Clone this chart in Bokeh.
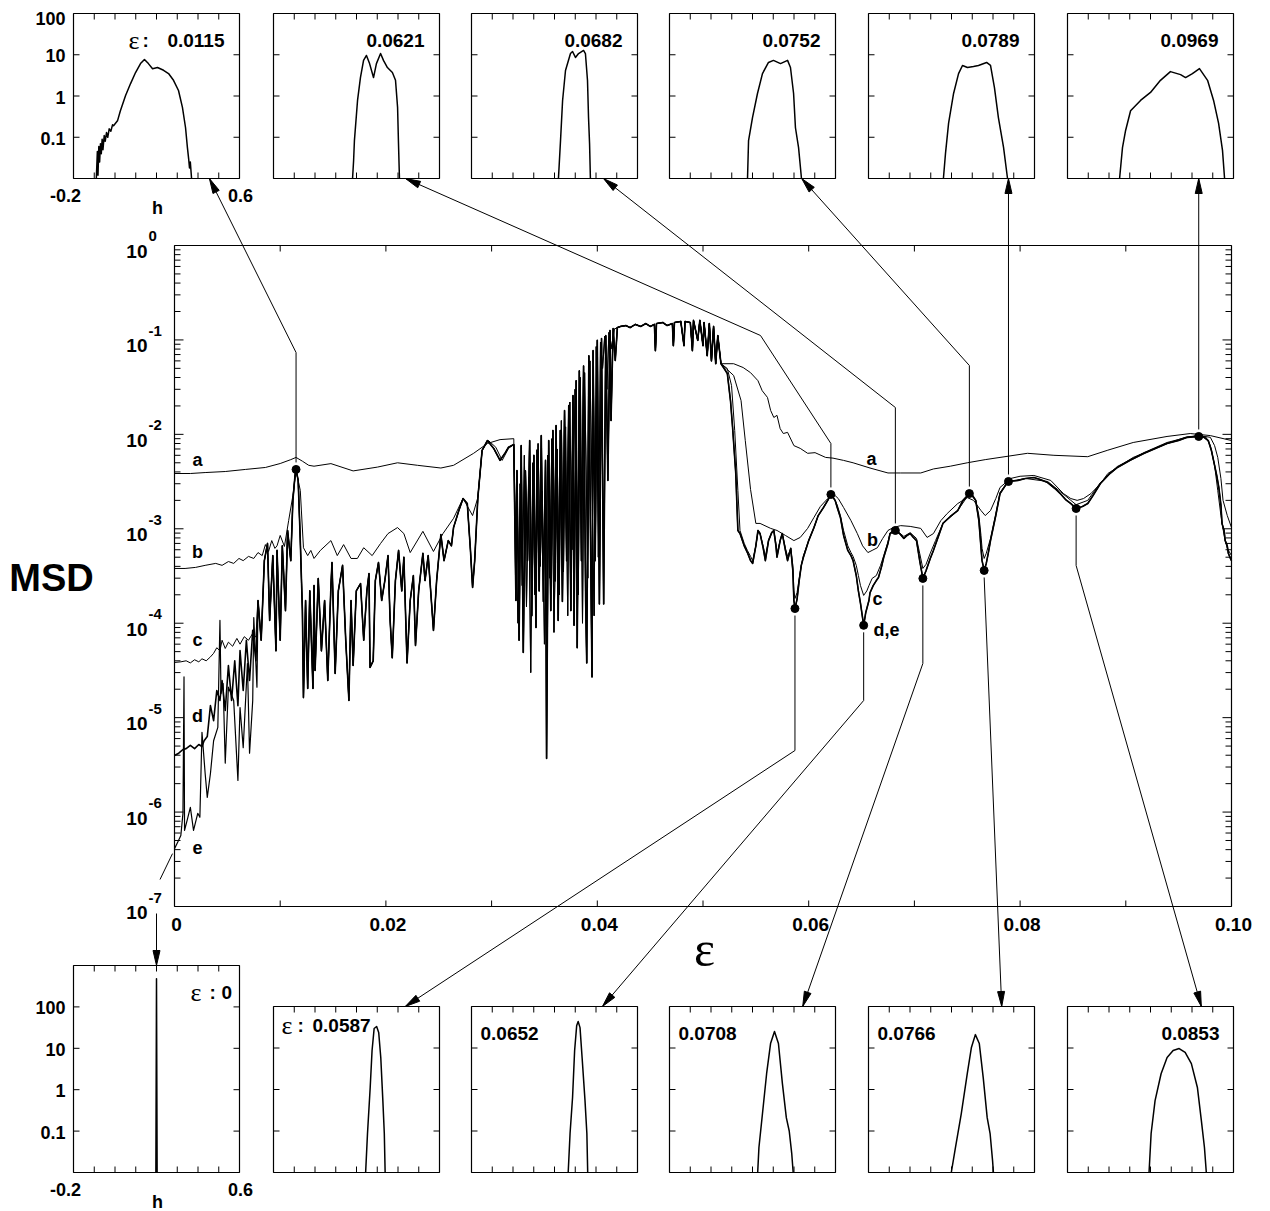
import math
from bokeh.plotting import figure
from bokeh.models import Range1d, LinearScale, LogScale, CoordinateMapping
from bokeh.embed import file_html
from bokeh.resources import INLINE
from bokeh.core.properties import value

# ------------------------------------------------------------------ data
# curve a
a_left_eps = [0.0000, 0.0015, 0.0029, 0.0048, 0.0067, 0.0086, 0.0100, 0.0110, 0.0115, 0.0121,
              0.0127, 0.0132, 0.0148, 0.0169, 0.0192, 0.0211, 0.0230, 0.0252, 0.0264, 0.0283,
              0.0296, 0.0308, 0.0321]
a_left_msd = [3.85e-3, 3.85e-3, 3.94e-3, 4.04e-3, 4.25e-3, 4.46e-3, 4.91e-3, 5.4e-3, 5.7e-3, 5.2e-3,
              4.7e-3, 4.6e-3, 4.9e-3, 4.1e-3, 4.5e-3, 5.0e-3, 4.7e-3, 4.4e-3, 4.7e-3, 6.3e-3,
              8.0e-3, 8.8e-3, 9.0e-3]
a_right_eps = [0.0529, 0.0538, 0.0545, 0.0552, 0.0556, 0.0561, 0.0564, 0.0567, 0.0570, 0.0573,
               0.0576, 0.0580, 0.0586, 0.0592, 0.0599, 0.0606, 0.0616, 0.0623, 0.0633, 0.0642,
               0.0658, 0.0675, 0.0687, 0.0706, 0.0718, 0.0734, 0.0750, 0.0767, 0.0781, 0.0807,
               0.0832, 0.0864, 0.0883, 0.0907, 0.0939, 0.0961, 0.0980, 0.1000]
a_right_msd = [0.056, 0.051, 0.045, 0.037, 0.029, 0.0246, 0.0179, 0.0151, 0.0159, 0.0115,
               0.0102, 0.0105, 0.0076, 0.0071, 0.0063, 0.0064, 0.0057, 0.0056, 0.0053, 0.0050,
               0.0044, 0.0039, 0.0039, 0.0039, 0.0043, 0.0046, 0.0050, 0.0054, 0.0057, 0.0063,
               0.0060, 0.0058, 0.0068, 0.0082, 0.0095, 0.0102, 0.0097, 0.0086]

# chaotic band (two overlapping realisations) and the plateau shared by all curves
chaos_eps = [0.0323, 0.0324, 0.0326, 0.0328, 0.0330, 0.0332, 0.0334, 0.0336, 0.0338, 0.0340,
             0.0342, 0.0343, 0.0345, 0.0347, 0.0349, 0.0351, 0.0352, 0.0354, 0.0356, 0.0358,
             0.0360, 0.0361, 0.0363, 0.0365, 0.0367, 0.0369, 0.0371, 0.0373, 0.0375, 0.0377,
             0.0378, 0.0380, 0.0381, 0.0383, 0.0385, 0.0387, 0.0389, 0.0390, 0.0392, 0.0394,
             0.0395, 0.0396, 0.0398, 0.0400, 0.0402, 0.0404, 0.0406, 0.0408, 0.0410, 0.0412,
             0.0413, 0.0415, 0.0417, 0.0419]
chaos_msd = [1.74e-4, 4.14e-3, 6.6e-5, 7.6e-3, 4.9e-5, 4.1e-3, 4.6e-4, 8.6e-3, 1.2e-4, 6.0e-3,
             9.0e-5, 6.8e-3, 2.2e-4, 9.7e-3, 1.7e-4, 5.3e-3, 3.7e-6, 8.6e-3, 1.36e-4, 0.011,
             2.8e-4, 0.0124, 1.07e-4, 0.011, 1.7e-4, 0.0179, 4.6e-4, 0.0202, 1.36e-4, 0.0258,
             9.5e-5, 0.037, 5.5e-5, 0.047, 4.6e-4, 0.053, 1.7e-4, 3.8e-5, 0.068, 2.8e-4,
             2.7e-5, 0.077, 4.6e-4, 0.099, 1.6e-4, 0.1035, 1.6e-4, 0.111, 3.25e-3, 0.126,
             0.014, 0.132, 0.0605, 0.135]
chaos2_eps = [0.0322, 0.0325, 0.0327, 0.0329, 0.0331, 0.0333, 0.0335, 0.0337, 0.0339, 0.0341,
              0.0344, 0.0346, 0.0348, 0.0350, 0.0353, 0.0355, 0.0357, 0.0359, 0.0362, 0.0364,
              0.0366, 0.0368, 0.0370, 0.0372, 0.0374, 0.0376, 0.0379, 0.0382, 0.0384, 0.0386,
              0.0388, 0.0391, 0.0393, 0.0397, 0.0399, 0.0401, 0.0403, 0.0405, 0.0407, 0.0409,
              0.0411, 0.0414, 0.0416, 0.0419]
chaos2_msd = [2.0e-3, 1.0e-4, 3.0e-3, 2.5e-4, 6.0e-3, 1.5e-4, 3.5e-3, 3.0e-5, 5.0e-3, 2.0e-4,
              8.0e-3, 4.0e-4, 2.5e-3, 6.0e-5, 6.0e-3, 3.0e-4, 9.0e-3, 8.0e-5, 7.0e-3, 2.0e-4,
              0.014, 3.5e-4, 0.012, 1.2e-4, 0.022, 6.0e-4, 0.030, 2.0e-4, 0.040, 1.0e-4,
              0.045, 3.0e-4, 0.060, 1.2e-4, 0.085, 5.0e-4, 0.095, 0.05, 0.110, 0.03,
              0.120, 0.08, 0.130, 0.135]
plateau_eps = [0.0422, 0.0427, 0.0431, 0.0436, 0.0441, 0.0446, 0.0450, 0.0454, 0.0455, 0.0456,
               0.0462, 0.0466, 0.0471, 0.0472, 0.0473, 0.0479, 0.0482, 0.0483, 0.0488, 0.0490,
               0.0491, 0.0495, 0.0497, 0.0500, 0.0501, 0.0504, 0.0506, 0.0508, 0.0510, 0.0512,
               0.0514, 0.0517]
plateau_msd = [0.139, 0.142, 0.135, 0.146, 0.139, 0.149, 0.139, 0.146, 0.077, 0.149,
               0.153, 0.142, 0.149, 0.087, 0.153, 0.157, 0.087, 0.157, 0.153, 0.077,
               0.161, 0.099, 0.161, 0.087, 0.153, 0.068, 0.149, 0.060, 0.139, 0.056,
               0.111, 0.056]

# curve b
b_left_eps = [0.0000, 0.0010, 0.0020, 0.0029, 0.0039, 0.0045, 0.0051, 0.0056, 0.0061, 0.0065,
              0.0070, 0.0075, 0.0079, 0.0083, 0.0086, 0.0089, 0.0092, 0.0095, 0.0097, 0.0100,
              0.0104, 0.0108, 0.0112, 0.0115, 0.0119, 0.0122, 0.0126, 0.0129, 0.0132, 0.0138,
              0.0148, 0.0154, 0.0160, 0.0167, 0.0173, 0.0179, 0.0187, 0.0195, 0.0202, 0.0211,
              0.0217, 0.0223, 0.0235, 0.0245, 0.0254, 0.0264, 0.0273, 0.0282, 0.0287, 0.0291,
              0.0297, 0.0304, 0.0310, 0.0316, 0.0321]
b_left_msd = [3.8e-4, 3.8e-4, 3.9e-4, 4.1e-4, 4.3e-4, 4.1e-4, 4.5e-4, 4.3e-4, 4.85e-4, 4.6e-4,
              5.1e-4, 4.85e-4, 5.6e-4, 5.2e-4, 6.8e-4, 5.75e-4, 7.5e-4, 6.2e-4, 6.6e-4, 8.5e-4,
              6.5e-4, 1.22e-3, 2.25e-3, 4.1e-3, 2.55e-3, 6.3e-4, 5.2e-4, 5.9e-4, 4.85e-4, 5.9e-4,
              7.5e-4, 5.2e-4, 6.8e-4, 4.85e-4, 4.85e-4, 6.3e-4, 5.2e-4, 7.0e-4, 8.9e-4, 1.03e-3,
              8.9e-4, 5.6e-4, 9.4e-4, 5.75e-4, 8.9e-4, 1.29e-3, 2.1e-3, 1.38e-3, 2.14e-3, 6.75e-3,
              8.6e-3, 7.3e-3, 5.3e-3, 7.1e-3, 7.8e-3]
b_right_eps = [0.0529, 0.0536, 0.0540, 0.0545, 0.0550, 0.0554, 0.0564, 0.0570, 0.0578, 0.0586,
               0.0592, 0.0599, 0.0605, 0.0611, 0.0618, 0.0623, 0.0628, 0.0633, 0.0640, 0.0646,
               0.0651, 0.0656, 0.0660, 0.0665, 0.0670, 0.0675, 0.0680, 0.0687, 0.0696, 0.0706,
               0.0712, 0.0718, 0.0725, 0.0731, 0.0741, 0.0750, 0.0756, 0.0763, 0.0767, 0.0772,
               0.0777, 0.0781, 0.0791, 0.0800, 0.0813, 0.0829, 0.0841, 0.0848, 0.0854, 0.0860,
               0.0867, 0.0876, 0.0883, 0.0895, 0.0907, 0.0923, 0.0939, 0.0956, 0.0968, 0.0975,
               0.0980, 0.0984, 0.0987, 0.0990, 0.0992, 0.0996, 0.1000]
b_right_msd = [0.042, 0.0228, 0.0086, 0.0026, 1.14e-3, 1.14e-3, 1.01e-3, 9.6e-4, 8.5e-4, 7.5e-4,
               8.1e-4, 1.01e-3, 1.32e-3, 1.72e-3, 2.09e-3, 2.36e-3, 2.09e-3, 1.68e-3, 1.22e-3, 8.9e-4,
               6.6e-4, 5.6e-4, 5.9e-4, 6.3e-4, 7.9e-4, 9.6e-4, 1.03e-3, 1.08e-3, 1.06e-3, 1.01e-3,
               8.1e-4, 8.9e-4, 1.22e-3, 1.45e-3, 1.85e-3, 2.14e-3, 2.0e-3, 1.56e-3, 1.38e-3, 1.56e-3,
               2.09e-3, 2.74e-3, 3.41e-3, 3.6e-3, 3.67e-3, 3.25e-3, 2.36e-3, 2.09e-3, 2.0e-3, 2.09e-3,
               2.36e-3, 3.0e-3, 3.85e-3, 4.7e-3, 5.7e-3, 6.75e-3, 8.0e-3, 9.3e-3, 9.7e-3, 9.5e-3,
               9.3e-3, 7.6e-3, 5.7e-3, 3.4e-3, 2.0e-3, 1.38e-3, 1.03e-3]

# curves c, d, e (left starts differ, then share the oscillating band)
c_left_eps = [0.0000, 0.0006, 0.0011, 0.0015, 0.0019, 0.0023, 0.0026, 0.0030, 0.0034, 0.0037,
              0.0040, 0.0043, 0.0045, 0.0048, 0.0051, 0.0055, 0.0059, 0.0062, 0.0066, 0.0070,
              0.0074, 0.0077]
c_left_msd = [3.84e-5, 3.9e-5, 4.0e-5, 3.8e-5, 4.1e-5, 3.9e-5, 4.2e-5, 4.0e-5, 4.4e-5, 4.8e-5,
              5.5e-5, 5.1e-5, 6.6e-5, 5.4e-5, 6.3e-5, 5.7e-5, 6.9e-5, 6.0e-5, 7.2e-5, 6.6e-5,
              7.8e-5, 7.1e-5]
d_left_eps = [0.0000, 0.0004, 0.0008, 0.0011, 0.0015, 0.0019, 0.0023, 0.0026, 0.0028, 0.0031,
              0.0034, 0.0037, 0.0040, 0.0043, 0.0045, 0.0048, 0.0051, 0.0054, 0.0057, 0.0060,
              0.0062, 0.0065, 0.0068, 0.0071, 0.0074, 0.0077]
d_left_msd = [3.97e-6, 4.2e-6, 4.6e-6, 4.7e-6, 5.1e-6, 4.7e-6, 5.2e-6, 4.95e-6, 5.7e-6, 6.3e-6,
              1.34e-5, 9.3e-6, 1.94e-5, 1.52e-5, 2.47e-5, 1.19e-5, 3.57e-5, 1.52e-5, 4.0e-5, 1.34e-5,
              5.14e-5, 1.94e-5, 6.6e-5, 2.47e-5, 8.4e-5, 4.0e-5]
e_left_eps = [0.0000, 0.0003, 0.0006, 0.0008, 0.0009, 0.00095, 0.0012, 0.0015, 0.0018, 0.0022,
              0.0024, 0.0026, 0.0029, 0.0031, 0.0034, 0.0037, 0.0041, 0.0043, 0.0044, 0.0046,
              0.0048, 0.0051, 0.0056, 0.0060, 0.0062, 0.0065, 0.0069, 0.0071, 0.0074, 0.0075,
              0.0078]
e_left_msd = [4.1e-7, 4.8e-7, 5.65e-7, 9.7e-7, 2.7e-5, 6.4e-7, 8.2e-7, 1.12e-6, 6.4e-7, 9.7e-7,
              8.8e-7, 7.0e-6, 2.56e-6, 1.43e-6, 2.56e-6, 5.7e-6, 7.9e-6, 1.07e-4, 1.8e-5, 2.3e-5,
              3.3e-6, 2.1e-5, 1.52e-5, 2.16e-6, 1.28e-5, 4.8e-6, 3.74e-5, 4.2e-6, 1.52e-5, 1.15e-4,
              2.1e-5]
cde_mid_eps = [0.0079, 0.0082, 0.0085, 0.0088, 0.0090, 0.0093, 0.0096, 0.0097, 0.0100, 0.0102,
               0.0105, 0.0107, 0.0110, 0.0112, 0.0114, 0.0115, 0.0117, 0.0119, 0.0121, 0.0122,
               0.0124, 0.0126, 0.0128, 0.0131, 0.0132, 0.0133, 0.0136, 0.0139, 0.0142, 0.0145,
               0.0148, 0.0149, 0.0152, 0.0155, 0.0159, 0.0162, 0.0165, 0.0167, 0.0169, 0.0172,
               0.0176, 0.0179, 0.0182, 0.0184, 0.0185, 0.0188, 0.0190, 0.0193, 0.0196, 0.0199,
               0.0202, 0.0204, 0.0206, 0.0209, 0.0212, 0.0215, 0.0217, 0.0220, 0.0223, 0.0226,
               0.0228, 0.0231, 0.0235, 0.0237, 0.0240, 0.0243, 0.0245, 0.0248, 0.0252, 0.0255,
               0.0259, 0.0262, 0.0264, 0.0269, 0.0273, 0.0277, 0.0280, 0.0282, 0.0284, 0.0287,
               0.0291, 0.0296, 0.0302, 0.0308, 0.0313, 0.0316, 0.0321]
cde_mid_msd = [1.74e-4, 6.6e-5, 4.6e-4, 7.0e-4, 1.07e-4, 5.2e-4, 5.1e-5, 5.9e-4, 6.6e-5, 6.6e-4,
               1.36e-4, 9.6e-4, 4.6e-4, 2.0e-3, 3.67e-3, 4.25e-3, 3.25e-3, 7.5e-4, 1.36e-4, 1.63e-5,
               1.74e-4, 2.04e-5, 2.2e-4, 2.04e-5, 2.51e-4, 3.16e-5, 2.98e-4, 5.1e-5, 1.74e-4, 2.47e-5,
               2.5e-4, 4.4e-4, 2.94e-5, 2.2e-4, 4.1e-4, 6.6e-5, 1.52e-5, 1.74e-4, 3.57e-5, 2.2e-4,
               2.63e-4, 6.6e-5, 2.2e-4, 3.36e-4, 3.4e-5, 4.0e-5, 2.83e-4, 4.4e-4, 1.74e-4, 2.83e-4,
               5.2e-4, 1.07e-4, 4.3e-5, 2.83e-4, 5.9e-4, 2.2e-4, 5.0e-4, 3.8e-5, 1.74e-4, 3.2e-4,
               5.8e-5, 2.2e-4, 5.5e-4, 2.83e-4, 5.2e-4, 1.74e-4, 8.4e-5, 2.83e-4, 8.7e-4, 4.6e-4,
               7.5e-4, 6.6e-4, 1.03e-3, 1.56e-3, 2.09e-3, 1.85e-3, 5.9e-4, 2.39e-4, 4.6e-4, 2.14e-3,
               6.75e-3, 8.6e-3, 7.1e-3, 5.3e-3, 6.4e-3, 7.3e-3, 7.8e-3]
c_right_eps = [0.0523, 0.0527, 0.0530, 0.0533, 0.0535, 0.0539, 0.0542, 0.0545, 0.0547, 0.0550,
               0.0552, 0.0554, 0.0557, 0.0559, 0.0562, 0.0565, 0.0567, 0.0569, 0.0570, 0.0573,
               0.0575, 0.0578, 0.0580, 0.0583, 0.0585, 0.0586, 0.0587, 0.0589, 0.0591, 0.0593,
               0.0595, 0.0600, 0.0605, 0.0609, 0.0614, 0.0618, 0.0621, 0.0625, 0.0627, 0.0630,
               0.0633, 0.0637, 0.0640, 0.0642, 0.0645, 0.0647, 0.0649, 0.0652, 0.0655, 0.0657,
               0.0660, 0.0664, 0.0668, 0.0671, 0.0675, 0.0677, 0.0682, 0.0690, 0.0696, 0.0702,
               0.0705, 0.0708, 0.0711, 0.0715, 0.0720, 0.0727, 0.0741, 0.0752, 0.0758, 0.0761,
               0.0763, 0.0764, 0.0766, 0.0768, 0.0772, 0.0777, 0.0781, 0.0789, 0.0805, 0.0826,
               0.0838, 0.0848, 0.0853, 0.0864, 0.0876, 0.0892, 0.0917, 0.0939, 0.0958, 0.0969,
               0.0976, 0.0980, 0.0984, 0.0987, 0.0990, 0.0993, 0.0996, 0.1000]
c_right_msd = [0.0498, 0.0329, 0.0110, 2.55e-3, 9.6e-4, 7.0e-4, 5.9e-4, 5.1e-4, 4.6e-4, 6.6e-4,
               9.1e-4, 8.9e-4, 6.5e-4, 5.1e-4, 7.5e-4, 9.1e-4, 9.6e-4, 7.0e-4, 5.5e-4, 7.5e-4,
               8.9e-4, 6.2e-4, 5.1e-4, 6.2e-4, 4.1e-4, 2.2e-4, 1.83e-4, 2.11e-4, 2.98e-4, 4.1e-4,
               5.2e-4, 7.5e-4, 1.03e-3, 1.38e-3, 1.68e-3, 2.0e-3, 2.31e-3, 2.0e-3, 1.78e-3, 1.38e-3,
               9.6e-4, 6.6e-4, 5.6e-4, 5.1e-4, 4.1e-4, 3.2e-4, 2.5e-4, 1.97e-4, 2.2e-4, 2.5e-4,
               2.98e-4, 3.2e-4, 4.1e-4, 5.2e-4, 7.3e-4, 9.1e-4, 9.8e-4, 8.3e-4, 9.1e-4, 7.9e-4,
               5.5e-4, 3.8e-4, 4.2e-4, 5.5e-4, 7.5e-4, 1.14e-3, 1.56e-3, 2.36e-3, 2.0e-3, 1.38e-3,
               8.5e-4, 6.2e-4, 4.85e-4, 5.5e-4, 7.9e-4, 1.45e-3, 2.42e-3, 3.17e-3, 3.41e-3, 3.17e-3,
               2.48e-3, 2.0e-3, 1.8e-3, 2.0e-3, 3.09e-3, 4.57e-3, 6.4e-3, 8.2e-3, 9.3e-3, 9.7e-3,
               9.3e-3, 7.6e-3, 4.7e-3, 2.55e-3, 1.38e-3, 8.5e-4, 6.2e-4, 5.2e-4]
de_right_eps = [0.0520, 0.0523, 0.0526, 0.0528, 0.0531, 0.0533, 0.0535, 0.0539, 0.0542, 0.0545,
                0.0547, 0.0550, 0.0552, 0.0554, 0.0557, 0.0559, 0.0562, 0.0565, 0.0567, 0.0569,
                0.0570, 0.0573, 0.0575, 0.0578, 0.0580, 0.0583, 0.0585, 0.0586, 0.0587, 0.0589,
                0.0591, 0.0593, 0.0595, 0.0600, 0.0605, 0.0609, 0.0614, 0.0618, 0.0621, 0.0625,
                0.0627, 0.0630, 0.0633, 0.0637, 0.0640, 0.0642, 0.0645, 0.0647, 0.0649, 0.0652,
                0.0654, 0.0657, 0.0658, 0.0661, 0.0664, 0.0666, 0.0669, 0.0671, 0.0675, 0.0677,
                0.0682, 0.0686, 0.0690, 0.0693, 0.0696, 0.0699, 0.0702, 0.0705, 0.0708, 0.0711,
                0.0715, 0.0718, 0.0723, 0.0727, 0.0734, 0.0741, 0.0746, 0.0752, 0.0755, 0.0758,
                0.0761, 0.0763, 0.0764, 0.0766, 0.0768, 0.0770, 0.0772, 0.0777, 0.0781, 0.0786,
                0.0789, 0.0798, 0.0805, 0.0813, 0.0819, 0.0826, 0.0833, 0.0838, 0.0843, 0.0848,
                0.0853, 0.0859, 0.0864, 0.0869, 0.0876, 0.0884, 0.0892, 0.0904, 0.0917, 0.0928,
                0.0939, 0.0950, 0.0958, 0.0969, 0.0974, 0.0978, 0.0981, 0.0983, 0.0986, 0.0988,
                0.0990, 0.0991, 0.0993, 0.0994, 0.0996, 0.0997, 0.0999, 0.1000]
de_right_msd = [0.0498, 0.0441, 0.0228, 0.0118, 3.85e-3, 9.6e-4, 8.9e-4, 6.6e-4, 5.6e-4, 4.6e-4,
                4.3e-4, 6.6e-4, 9.6e-4, 8.9e-4, 6.2e-4, 4.6e-4, 7.5e-4, 9.1e-4, 9.6e-4, 6.6e-4,
                5.0e-4, 7.5e-4, 8.9e-4, 5.9e-4, 4.6e-4, 6.2e-4, 3.6e-4, 1.74e-4, 1.43e-4, 1.8e-4,
                2.83e-4, 4.1e-4, 5.0e-4, 7.5e-4, 1.03e-3, 1.38e-3, 1.68e-3, 2.0e-3, 2.31e-3, 2.0e-3,
                1.68e-3, 1.32e-3, 8.5e-4, 5.9e-4, 5.2e-4, 4.6e-4, 3.2e-4, 2.2e-4, 1.62e-4, 9.5e-5,
                1.3e-4, 1.74e-4, 2.1e-4, 2.5e-4, 2.83e-4, 3.05e-4, 4.0e-4, 5.0e-4, 7.0e-4, 8.9e-4,
                9.6e-4, 8.9e-4, 7.9e-4, 8.5e-4, 8.9e-4, 8.1e-4, 7.5e-4, 4.6e-4, 2.98e-4, 3.6e-4,
                4.85e-4, 5.9e-4, 8.5e-4, 1.14e-3, 1.35e-3, 1.56e-3, 2.0e-3, 2.36e-3, 2.25e-3, 2.0e-3,
                1.22e-3, 6.3e-4, 4.6e-4, 3.62e-4, 4.3e-4, 5.6e-4, 7.5e-4, 1.38e-3, 2.36e-3, 2.87e-3,
                3.17e-3, 3.25e-3, 3.41e-3, 3.49e-3, 3.33e-3, 3.09e-3, 2.67e-3, 2.36e-3, 2.04e-3, 1.85e-3,
                1.64e-3, 1.72e-3, 1.85e-3, 2.25e-3, 3.02e-3, 3.76e-3, 4.46e-3, 5.3e-3, 6.27e-3, 7.1e-3,
                8.0e-3, 8.6e-3, 9.3e-3, 9.5e-3, 9.3e-3, 8.6e-3, 6.75e-3, 5.3e-3, 3.67e-3, 2.74e-3,
                1.78e-3, 1.14e-3, 9.6e-4, 7.5e-4, 6.6e-4, 5.5e-4, 4.85e-4, 4.6e-4]

# highlighted snapshots (dots)
snap_eps = [0.0115, 0.0587, 0.0621, 0.0652, 0.0682, 0.0708, 0.0752, 0.0766, 0.0789, 0.0853, 0.0969]
snap_msd = [4.25e-3, 1.43e-4, 2.31e-3, 9.5e-5, 9.6e-4, 2.98e-4, 2.36e-3, 3.62e-4, 3.17e-3, 1.64e-3, 9.5e-3]

# inset distributions P(h)
t1_h = [-0.090, -0.085, -0.082, -0.078, -0.074, -0.070, -0.066, -0.062, -0.058, -0.052,
        -0.047, -0.041, -0.035, -0.028, -0.020, -0.012, -0.007, 0.012, 0.026, 0.051,
        0.075, 0.099, 0.123, 0.142, 0.161, 0.181, 0.205, 0.234, 0.258, 0.282,
        0.306, 0.325, 0.340, 0.349, 0.355, 0.359, 0.363, 0.369]
t1_p = [0.01, 0.045, 0.012, 0.06, 0.025, 0.07, 0.04, 0.09, 0.05, 0.11,
        0.08, 0.13, 0.10, 0.16, 0.14, 0.20, 0.19, 0.25, 0.44, 1.03,
        2.0, 3.7, 6.1, 7.7, 6.1, 4.6, 4.9, 4.2, 3.5, 2.4,
        1.36, 0.53, 0.17, 0.056, 0.03, 0.018, 0.025, 0.01]
t2_h = [0.181, 0.186, 0.190, 0.205, 0.219, 0.234, 0.248, 0.263, 0.282, 0.296, 0.316, 0.330,
        0.349, 0.373, 0.388, 0.398, 0.402, 0.407]
t2_p = [0.01, 0.027, 0.083, 0.78, 2.8, 7.3, 9.6, 6.1, 2.8, 6.1, 10.7, 7.3, 4.9, 3.7, 2.4, 0.53, 0.083, 0.01]
t3_h = [0.219, 0.229, 0.239, 0.253, 0.277, 0.287, 0.301, 0.316, 0.340, 0.349, 0.359, 0.364, 0.369, 0.373]
t3_p = [0.01, 0.083, 0.78, 4.15, 10.7, 12.0, 8.6, 10.7, 12.7, 10.7, 2.4, 0.30, 0.07, 0.01]
t4_h = [0.176, 0.181, 0.200, 0.224, 0.248, 0.277, 0.301, 0.335, 0.369, 0.383, 0.398, 0.407, 0.422, 0.436]
t4_p = [0.01, 0.083, 0.30, 1.15, 3.5, 6.5, 7.3, 6.1, 7.3, 4.9, 1.15, 0.17, 0.056, 0.01]
t5_h = [0.161, 0.171, 0.186, 0.210, 0.234, 0.253, 0.277, 0.306, 0.330, 0.369, 0.388, 0.407, 0.426, 0.451, 0.470]
t5_p = [0.01, 0.040, 0.22, 1.15, 3.5, 5.5, 4.9, 5.2, 5.5, 6.5, 5.5, 1.6, 0.30, 0.056, 0.01]
t6_h = [0.051, 0.065, 0.080, 0.104, 0.152, 0.200, 0.248, 0.296, 0.345, 0.369, 0.402, 0.436,
        0.475, 0.504, 0.528, 0.547, 0.557]
t6_p = [0.01, 0.056, 0.146, 0.44, 0.78, 1.22, 2.4, 3.9, 3.3, 2.8, 3.5, 4.6, 2.4, 0.78, 0.22, 0.048, 0.01]
b1_h = [0.197, 0.200, 0.203]
b1_p = [0.01, 480.0, 0.01]
b2_h = [0.244, 0.253, 0.266, 0.275, 0.285, 0.297, 0.307, 0.317, 0.327, 0.334, 0.338]
b2_p = [0.01, 0.087, 1.12, 8.7, 29.5, 33.0, 23.6, 5.9, 0.54, 0.087, 0.01]
b3_h = [0.266, 0.275, 0.287, 0.297, 0.307, 0.314, 0.323, 0.333, 0.347, 0.356, 0.360]
b3_p = [0.01, 0.087, 0.64, 8.7, 35.0, 43.5, 31.0, 5.9, 0.54, 0.087, 0.01]
b4_h = [0.225, 0.231, 0.248, 0.268, 0.287, 0.306, 0.325, 0.344, 0.363, 0.377, 0.389, 0.396]
b4_p = [0.01, 0.04, 0.26, 2.4, 12.8, 25.0, 12.8, 1.4, 0.21, 0.10, 0.029, 0.01]
b5_h = [0.199, 0.219, 0.247, 0.276, 0.296, 0.315, 0.334, 0.353, 0.372, 0.386, 0.398, 0.402]
b5_p = [0.01, 0.04, 0.26, 2.4, 10.3, 21.0, 12.8, 1.9, 0.21, 0.087, 0.019, 0.01]
b6_h = [0.193, 0.203, 0.222, 0.251, 0.280, 0.309, 0.338, 0.367, 0.397, 0.426, 0.445, 0.460, 0.469]
b6_p = [0.01, 0.087, 0.54, 2.4, 5.9, 8.7, 9.7, 7.8, 4.2, 1.12, 0.18, 0.04, 0.01]

top_labels = ["0.0115", "0.0621", "0.0682", "0.0752", "0.0789", "0.0969"]
bot_labels = ["0", "0.0587", "0.0652", "0.0708", "0.0766", "0.0853"]
x_tick_vals = [0.0, 0.02, 0.04, 0.06, 0.08, 0.10]
x_tick_text = ["0", "0.02", "0.04", "0.06", "0.08", "0.10"]
y_tick_exp = [0, -1, -2, -3, -4, -5, -6, -7]
inset_y_ticks = [100, 10, 1, 0.1]
inset_y_text = ["100", "10", "1", "0.1"]

# ------------------------------------------------------------------ layout
W, H = 1270, 1211
MX0, MX1, MY0, MY1 = 174, 1231, 906, 245
PX = [73, 273, 471, 669, 868, 1067]
PW = 166
TOP_B, TOP_T = 178, 13
BOT_B, BOT_T = 1172, 1006
B1_T = 965

SANS = value("Liberation Sans")
SERIF = value("Liberation Serif")

p = figure(width=W, height=H, x_range=Range1d(0, W), y_range=Range1d(H, 0),
           output_backend="svg", toolbar_location=None, min_border=0,
           x_axis_type=None, y_axis_type=None)
p.outline_line_color = None
p.background_fill_color = "white"
p.border_fill_color = "white"


def cmap(xs, ys, xt, yt):
    return CoordinateMapping(x_source=Range1d(*xs), y_source=Range1d(*ys),
                             x_scale=LinearScale(), y_scale=LogScale(),
                             x_target=Range1d(*xt), y_target=Range1d(*yt))


def on(m, r):
    r.coordinates = m
    return r


def fit(x, y):
    n = min(len(x), len(y))
    return list(x[:n]), list(y[:n])


MAIN = cmap((0, 0.1), (1e-7, 1), (MX0, MX1), (MY0, MY1))


def mx(e):
    return MX0 + e / 0.1 * (MX1 - MX0)


def my(v):
    return MY0 + (math.log10(v) + 7) / 7 * (MY1 - MY0)


def txt(xs, ys, texts, size, align="center", font=SANS, style="bold", baseline="middle"):
    p.text(x=xs, y=ys, text=texts, text_font=font, text_font_style=style,
           text_font_size=f"{size}px", text_align=align, text_baseline=baseline,
           text_color="black")


# ---------------- main curves
mid1 = chaos_eps + plateau_eps, chaos_msd + plateau_msd
mid2 = chaos2_eps + plateau_eps, chaos2_msd + plateau_msd
curves = [
    (a_left_eps + mid1[0] + a_right_eps, a_left_msd + mid1[1] + a_right_msd, 1.0),
    (b_left_eps + mid2[0] + b_right_eps, b_left_msd + mid2[1] + b_right_msd, 1.0),
    (c_left_eps + cde_mid_eps + mid2[0] + c_right_eps, c_left_msd + cde_mid_msd + mid2[1] + c_right_msd, 1.0),
    (d_left_eps + cde_mid_eps + mid1[0] + de_right_eps, d_left_msd + cde_mid_msd + mid1[1] + de_right_msd, 1.6),
    (e_left_eps + cde_mid_eps + mid1[0] + de_right_eps, e_left_msd + cde_mid_msd + mid1[1] + de_right_msd, 1.2),
]
for xs, ys, lw in curves:
    xs, ys = fit(xs, ys)
    on(MAIN, p.line(xs, ys, line_color="black", line_width=lw, line_join="round"))

on(MAIN, p.quad(left=[0], right=[0.1], bottom=[1e-7], top=[1], fill_color=None,
                line_color="black", line_width=1.2))
on(MAIN, p.scatter(snap_eps, snap_msd, size=8, color="black"))

# main ticks
tx0, ty0, tx1, ty1 = [], [], [], []
for k in range(1, 10):
    x = mx(0.01 * k)
    tx0 += [x, x]; tx1 += [x, x]
    ty0 += [MY0, MY1]; ty1 += [MY0 - 6, MY1 + 6]
for k in range(-7, 0):
    for m in range(1, 10):
        v = m * 10 ** k
        if k == -7 and m == 1:
            continue
        y = my(v)
        L = 9 if m == 1 else 6
        tx0 += [MX0, MX1]; tx1 += [MX0 + L, MX1 - L]
        ty0 += [y, y]; ty1 += [y, y]
p.segment(tx0, ty0, tx1, ty1, line_color="black", line_width=1)

# main tick labels
txt([mx(v) + 2 for v in x_tick_vals], [924] * len(x_tick_vals), x_tick_text, 19)
txt([147] * len(y_tick_exp), [my(10.0 ** k) + 6 for k in y_tick_exp], ["10"] * len(y_tick_exp), 19, align="right")
txt([148] * len(y_tick_exp), [my(10.0 ** k) - (10 if k == 0 else 9) for k in y_tick_exp],
    [str(k) for k in y_tick_exp], 15, align="left")
txt([51], [577], ["MSD"], 38)
txt([704], [948], ["ε"], 50, font=SERIF, style="normal")

# curve labels
txt([197, 197, 197, 197, 197], [459, 551, 639, 715, 847], ["a", "b", "c", "d", "e"], 18)
txt([871, 872, 877, 886], [458, 539, 598, 629], ["a", "b", "c", "d,e"], 18)

# ---------------- insets
top_data = [(t1_h, t1_p), (t2_h, t2_p), (t3_h, t3_p), (t4_h, t4_p), (t5_h, t5_p), (t6_h, t6_p)]
bot_data = [(b1_h, b1_p), (b2_h, b2_p), (b3_h, b3_p), (b4_h, b4_p), (b5_h, b5_p), (b6_h, b6_p)]

seg = [[], [], [], []]


def inset(i, ybot, ytop, pmax, hs, ps):
    m = cmap((-0.2, 0.6), (0.01, pmax), (PX[i], PX[i] + PW), (ybot, ytop))
    on(m, p.quad(left=[-0.2], right=[0.6], bottom=[0.01], top=[pmax], fill_color=None,
                 line_color="black", line_width=1.2))
    hs, ps = fit(hs, ps)
    on(m, p.line(hs, ps, line_color="black", line_width=1.5, line_join="round"))
    x0, x1 = PX[i], PX[i] + PW
    for k in range(1, 8):
        x = x0 + k * PW / 8
        seg[0] += [x, x]; seg[2] += [x, x]
        seg[1] += [ybot, ytop]; seg[3] += [ybot - 6, ytop + 6]
    dec = int(round(math.log10(pmax))) + 2
    for k in range(1, dec):
        y = ybot + k / dec * (ytop - ybot)
        seg[0] += [x0, x1]; seg[2] += [x0 + 6, x1 - 6]
        seg[1] += [y, y]; seg[3] += [y, y]


for i, (hs, ps) in enumerate(top_data):
    inset(i, TOP_B, TOP_T, 100, hs, ps)
for i, (hs, ps) in enumerate(bot_data):
    if i == 0:
        inset(i, BOT_B, B1_T, 1000, hs, ps)
    else:
        inset(i, BOT_B, BOT_T, 100, hs, ps)
p.segment(seg[0], seg[1], seg[2], seg[3], line_color="black", line_width=1)


def iy(P, ybot, ytop, pmax):
    dec = math.log10(pmax) + 2
    return ybot + (math.log10(P) + 2) / dec * (ytop - ybot)


# inset tick labels (first column only)
ty_top = [iy(v, TOP_B, TOP_T, 100) + 1 for v in inset_y_ticks]
ty_top[0] = 18
txt([PX[0] - 8] * 4, ty_top, inset_y_text, 18, align="right")
txt([PX[0] - 8] * 4, [iy(v, BOT_B, B1_T, 1000) + 1 for v in inset_y_ticks], inset_y_text, 18, align="right")
for yb in (TOP_B, BOT_B):
    txt([PX[0] - 8, PX[0] + PW + 1], [yb + 17, yb + 17], ["-0.2", "0.6"], 18)
    txt([PX[0] + PW / 2 + 1], [yb + 29], ["h"], 18)

# inset snapshot labels
txt([PX[i] + PW - 15 for i in range(6)], [40] * 6, top_labels, 19, align="right")
txt([128], [40], ["ε"], 26, align="left", font=SERIF, style="normal")
txt([142], [40], [":"], 19, align="left")
txt([190], [992], ["ε"], 26, align="left", font=SERIF, style="normal")
txt([209, 221], [992, 992], [":", bot_labels[0]], 19, align="left")
txt([281], [1025], ["ε"], 26, align="left", font=SERIF, style="normal")
txt([297, 312], [1025, 1025], [":", bot_labels[1]], 19, align="left")
txt([PX[2] + 9, PX[3] + 9, PX[4] + 9], [1033] * 3, bot_labels[2:5], 19, align="left")
txt([PX[5] + PW - 14], [1033], [bot_labels[5]], 19, align="right")

# ---------------- connectors (arrows)
def px_h(i, h):
    return PX[i] + (h + 0.2) / 0.8 * PW


top_links = [(0, [352], 0, 0.455), (2, [443, (760, 335)], 1, 0.436), (4, [407], 2, 0.436),
             (6, [365], 3, 0.437), (8, [], 4, None), (10, [], 5, None)]
bot_links = [(1, [750], 1, 0.435), (3, [700], 2, 0.431), (5, [663], 3, 0.442),
             (7, [], 4, 0.442), (9, [565], 5, 0.445)]

lines_x, lines_y, heads_x, heads_y = [], [], [], []


def head(tip, frm, L=15, Wd=7):
    dx, dy = tip[0] - frm[0], tip[1] - frm[1]
    n = math.hypot(dx, dy)
    ux, uy = dx / n, dy / n
    bx, by = tip[0] - L * ux, tip[1] - L * uy
    nx, ny = -uy, ux
    heads_x.append([tip[0], bx + Wd / 2 * nx, bx - Wd / 2 * nx])
    heads_y.append([tip[1], by + Wd / 2 * ny, by - Wd / 2 * ny])


def link(si, bends, panel, h, up):
    x = mx(snap_eps[si])
    y = my(snap_msd[si]) + (-7 if up else 7)
    pts = [(x, y)]
    for b in bends:
        pts.append((x, b) if not isinstance(b, tuple) else b)
    tip_x = x if h is None else px_h(panel, h)
    tip = (tip_x, TOP_B if up else BOT_T)
    pts.append(tip)
    lines_x.append([q[0] for q in pts])
    lines_y.append([q[1] for q in pts])
    head(tip, pts[-2])


for si, bends, panel, h in top_links:
    link(si, bends, panel, h, True)
for si, bends, panel, h in bot_links:
    link(si, bends, panel, h, False)

# eps = 0 link to the first lower inset
x0e = mx(0)
lines_x.append([x0e - 2, 159.5]); lines_y.append([my(e_left_msd[0]) + 5, 879])
b1x = px_h(0, 0.2)
lines_x.append([b1x, b1x]); lines_y.append([913, B1_T])
head((b1x, B1_T), (b1x, 913))

p.multi_line(lines_x, lines_y, line_color="black", line_width=1)
p.patches(heads_x, heads_y, fill_color="black", line_color="black", line_width=1)

open("out.html", "w").write(file_html(p, INLINE))
